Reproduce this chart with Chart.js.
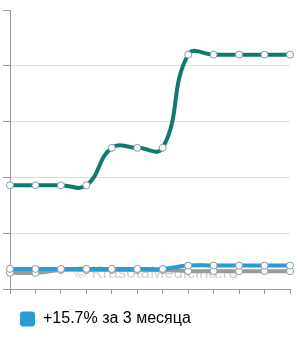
<!DOCTYPE html>
<html>
<head>
<meta charset="utf-8">
<script src="https://cdn.jsdelivr.net/npm/chart.js@4"></script>
<style>
  html, body { margin: 0; padding: 0; background: #fff; }
  #wrap { width: 300px; height: 340px; }
</style>
</head>
<body>
<div id="wrap"><canvas id="chart" width="300" height="340"></canvas></div>
<script>
// 12 measurements, no visible x labels
const labels = ["1", "2", "3", "4", "5", "6", "7", "8", "9", "10", "11", "12"];
const tealValues = [1.86, 1.86, 1.86, 1.86, 2.53, 2.53, 2.53, 4.2, 4.2, 4.2, 4.2, 4.2];
const blueValues = [0.36, 0.36, 0.36, 0.36, 0.36, 0.36, 0.36, 0.42, 0.42, 0.42, 0.42, 0.42];
const grayValues = [0.29, 0.29, 0.34, 0.34, 0.34, 0.34, 0.34, 0.32, 0.32, 0.32, 0.32, 0.32];
const legendText = "+15.7% за 3 месяца";
const watermark = "© KrasotaMedicina.ru";

const watermarkPlugin = {
  id: "watermark",
  beforeDatasetsDraw(chart) {
    const { ctx } = chart;
    ctx.save();
    ctx.font = "17px 'Liberation Sans', Arial, sans-serif";
    ctx.fillStyle = "rgba(150, 150, 150, 0.45)";
    ctx.textAlign = "center";
    ctx.textBaseline = "middle";
    ctx.fillText(watermark, 156, 273);
    ctx.restore();
  },
};

const lineStyle = (color) => ({
  borderColor: color,
  backgroundColor: color,
  borderWidth: 4,
  tension: 0.45,
  fill: false,
  pointRadius: 3.5,
  pointBackgroundColor: "#fff",
  pointBorderColor: "#7f9aa6",
  pointBorderWidth: 1,
});

new Chart(document.getElementById("chart"), {
  type: "line",
  data: {
    labels: labels,
    datasets: [
      { label: "teal", data: tealValues, ...lineStyle("#117a70") },
      { label: legendText, data: blueValues, ...lineStyle("#2b9bd8") },
      { label: "gray", data: grayValues, ...lineStyle("#9a9a9a") },
    ],
  },
  options: {
    responsive: false,
    animation: false,
    layout: { padding: { left: 3, top: 10, right: 10, bottom: 3 } },
    plugins: {
      tooltip: { enabled: false },
      legend: {
        position: "bottom",
        align: "start",
        labels: {
          filter: (item) => item.text === legendText,
          boxWidth: 15,
          boxHeight: 15,
          padding: 17,
          color: "#333",
          font: { size: 16, family: "'Liberation Sans', Arial, sans-serif" },
          generateLabels: (chart) =>
            chart.data.datasets.map((ds, i) => ({
              text: ds.label,
              fillStyle: ds.borderColor,
              strokeStyle: ds.borderColor,
              lineWidth: 0,
              borderRadius: 3,
              datasetIndex: i,
            })),
        },
      },
    },
    scales: {
      x: {
        ticks: { display: false },
        border: { color: "#999", width: 1 },
        grid: {
          drawOnChartArea: false,
          drawTicks: true,
          tickLength: 5,
          tickColor: "#999",
        },
      },
      y: {
        min: 0,
        max: 5,
        ticks: { display: false, stepSize: 1 },
        border: { color: "#999", width: 1 },
        grid: {
          color: (c) => (c.tick && c.tick.value === 5 ? "rgba(0,0,0,0)" : "#dcdcdc"),
          tickColor: "#999",
          tickLength: 7,
        },
      },
    },
  },
  plugins: [watermarkPlugin],
});
</script>
</body>
</html>
